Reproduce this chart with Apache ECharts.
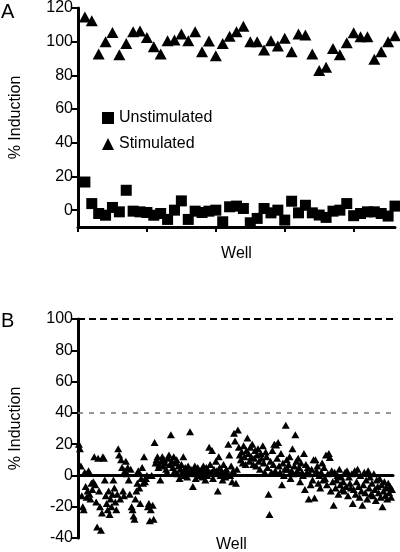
<!DOCTYPE html>
<html>
<head>
<meta charset="utf-8">
<script src="https://cdn.jsdelivr.net/npm/echarts@6/dist/echarts.min.js"></script>
<style>html,body{margin:0;padding:0;background:#fff}#c{width:400px;height:552px}</style>
</head>
<body>
<div id="c"></div>
<script>
// ---------- Panel A data (46 wells) ----------
var wellsA = 46;
var unstimulatedA = [16.7, 3.9, -2, -3, 1.6, -1, 11.8, -0.6, -1, -1.4, -3, -2, -5.5, 0, 5.5, -5.5, -0.6, -1.4, -0.6,
  0, -6.9, 2, 2.4, 1, -7.5, -4.9, 1, -1.6, 0, -5.9, 5.3, -1.6, 2.9, -1.6, -2.9, -4.3, -0.6, 0, 3.9, -3.3, -2, -1, -1, -2, -3.5, 2.4];
var stimulatedA = [114.7, 112.4, 92.7, 100, 105.5, 92.2, 99, 105.9, 106.3, 102.5, 97, 92.7, 100.6, 101, 104.5, 100.6, 105.9, 94, 100.4,
  91.6, 99, 103.3, 105.9, 109.2, 100, 100, 95, 100.6, 97.5, 102, 94, 104.5, 103.9, 92.7, 82.9, 84.9, 96, 92.2, 99.4, 105.3, 102.9, 102.9, 89.6, 94, 100, 103.5];
var yTicksA = [0, 20, 40, 60, 80, 100, 120];
var xTicksA = [0, 10, 20, 30, 40];

// ---------- Panel B data (screen wells) ----------
var screenB1 = [20, 17, 6, -13, -20, -22,
  2, -7, -14, -10, 3, -12, -15, -5, -9, -4,
  12, -6, -17, -33, 11, -10, -20, -35, -24, 12,
  11, -3, -13, -18, -22, -10, -25, -15, -20, -12,
  -3, -8, -17, -22, -12, 17, 13, -15, 10, 5,
  -10, -13, 3, 9, 1, 5, -3, -12, 4, -20,
  -22, -26, -28, -15, -10, -5, 3, -8, -18, -2,
  5, -5, 12, -4, -2, 0, -20, -18, -29, -22];
var screenB2 = [0, -19, -28, 21, 8, 10, 12, 5, 7, -3,
  9, 12, 6, 10, 8, 4, 2, 11, 13, 7,
  26, 9, 5, 12, 3, 8, 10, 1, 6, -2,
  4, 7, 2, 12, 0, 5, 3, -1, 6, 2,
  28, 4, 1, -7, 3, 6, -2, 2, 5, 0,
  3, 1, 4, -1, 6, 2, -3, 5, 0, 3,
  18, 7, 2, 16, -2, 4, 1, 9, 3, -10,
  12, 5, 0, 3, -3, 7, 2, -1, 4, 1];
var screenB3 = [20, 13, 0, 6, -4, 3, 27, 22, -5, 4,
  29, 18, 13, 10, 15, 8, 19, 12, 7, 16,
  24, 14, 9, 18, 12, 20, 7, 11, 16, 6,
  13, 17, 9, 4, 14, 11, 19, 8, 2, 15,
  12, 5, -12, -25, 9, 2, 16, 7, 20, 3,
  19.5, 11, 21, 6, 2, 14, -6, 8, 0, 4,
  32, 10, 4, 7, 12, -2, 3, 17, 1, 6,
  26, 9, 3, 11, 5, -4, 8, 2, 0, 14];
var screenB4 = [-9, 7, 2, 5, -15, 1, -6, 4, -3, 10,
  -14.5, 10, 3, 6, -5, 0, -8, 2, 8, -3,
  5, -2, 13, -6, 1, 14, 11.5, -10, 3, -4,
  -19, 2, -8, -3, 0, -12, 4, -6, -1, -9,
  -4, -10, 2, -7, 3, -13, -1, -5, -8, 1,
  -18, -9, 3, -12, -4, 4, -7, -14, 0, -10,
  -19, -6, 2, -11, -3, -15, 3, -8, -1, -12,
  -5, -13, 1, -9, -16, -3, -7, -11, -2, -14,
  -6, -20, -10, -4, -13, -8, -15, -5, -11, -7, -14, -9];
var yTicksB = [-40, -20, 0, 20, 40, 60, 80, 100];
var hitThresholdB = 40;
var positiveControlB = 100;

var screenB = screenB1.concat(screenB2, screenB3, screenB4);

function toPoints(arr) { return arr.map(function (v, i) { return [i + 1, v]; }); }

var FONT = 'Liberation Sans';
var txt = { color: '#000', fontFamily: FONT, fontSize: 16 };

var chart = echarts.init(document.getElementById('c'), null, { renderer: 'canvas' });
chart.setOption({
  animation: false,
  backgroundColor: '#fff',
  textStyle: { fontFamily: FONT, color: '#000' },
  grid: [
    { left: 64, top: 6, width: 331, height: 221 },
    { left: 64, top: 319, width: 329, height: 219 }
  ],
  legend: {
    data: ['Unstimulated', 'Stimulated'],
    orient: 'vertical',
    left: 97, top: 105,
    itemWidth: 12, itemHeight: 12, itemGap: 10, itemTextGap: 13,
    textStyle: txt,
    selectedMode: false
  },
  xAxis: [
    {
      gridIndex: 0, type: 'value', min: 0, max: wellsA, interval: 10,
      name: 'Well', nameLocation: 'middle', nameGap: 19, nameTextStyle: txt,
      axisLine: { onZero: false, lineStyle: { color: '#000', width: 3 } },
      axisTick: { show: true, length: 5, lineStyle: { color: '#000', width: 2 }, customValues: xTicksA },
      axisLabel: { show: false },
      splitLine: { show: false }
    },
    {
      gridIndex: 1, type: 'value', min: 0, max: screenB.length + 1,
      axisLine: { onZero: true, lineStyle: { color: '#000', width: 3 } },
      axisTick: { show: false },
      axisLabel: { show: false },
      splitLine: { show: false }
    }
  ],
  yAxis: [
    {
      gridIndex: 0, type: 'value', min: -10, max: 120,
      name: '% Induction', nameLocation: 'middle', nameGap: 54, nameTextStyle: txt,
      axisLine: { show: true, onZero: false, lineStyle: { color: '#000', width: 3 } },
      axisTick: { show: true, length: 6, lineStyle: { color: '#000', width: 2 }, customValues: yTicksA },
      axisLabel: { color: '#000', fontFamily: FONT, fontSize: 16, margin: 5, customValues: yTicksA },
      splitLine: { show: false }
    },
    {
      gridIndex: 1, type: 'value', min: -40, max: 100, interval: 20,
      name: '% Induction', nameLocation: 'middle', nameGap: 54, nameTextStyle: txt,
      axisLine: { show: true, onZero: false, lineStyle: { color: '#000', width: 3 } },
      axisTick: { show: true, length: 6, lineStyle: { color: '#000', width: 2 } },
      axisLabel: { color: '#000', fontFamily: FONT, fontSize: 16, margin: 5 },
      splitLine: { show: false }
    }
  ],
  series: [
    {
      name: 'Unstimulated', type: 'scatter', xAxisIndex: 0, yAxisIndex: 0,
      symbol: 'rect', symbolSize: 11, itemStyle: { color: '#000', opacity: 1 },
      data: toPoints(unstimulatedA)
    },
    {
      name: 'Stimulated', type: 'scatter', xAxisIndex: 0, yAxisIndex: 0,
      symbol: 'triangle', symbolSize: [12, 11], itemStyle: { color: '#000', opacity: 1 },
      data: toPoints(stimulatedA)
    },
    {
      name: 'Screen', type: 'scatter', xAxisIndex: 1, yAxisIndex: 1,
      symbol: 'triangle', symbolSize: [8, 7], itemStyle: { color: '#000', opacity: 1 },
      data: toPoints(screenB),
      markLine: {
        silent: true, symbol: 'none', label: { show: false },
        data: [
          { yAxis: positiveControlB, lineStyle: { color: '#000', width: 2, type: [7, 4] } },
          { yAxis: hitThresholdB, lineStyle: { color: '#777', width: 1.5, type: [5, 6] } }
        ]
      }
    }
  ],
  graphic: [
    { type: 'text', left: 1, top: 2, style: { text: 'A', fontFamily: FONT, fontSize: 20, fill: '#000' } },
    { type: 'text', left: 1, top: 311, style: { text: 'B', fontFamily: FONT, fontSize: 20, fill: '#000' } },
    { type: 'text', left: 216, top: 537, style: { text: 'Well', fontFamily: FONT, fontSize: 16, fill: '#000' } }
  ]
});
</script>
</body>
</html>
